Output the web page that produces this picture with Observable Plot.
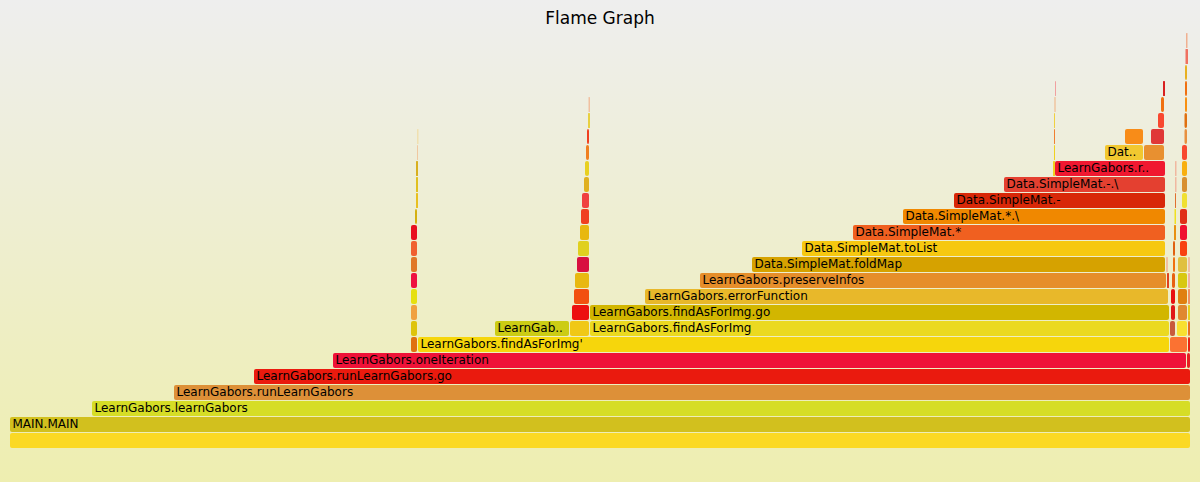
<!DOCTYPE html>
<html>
<head>
<meta charset="utf-8">
<script src="https://cdn.jsdelivr.net/npm/d3@7"></script>
<script src="https://cdn.jsdelivr.net/npm/@observablehq/plot@0.6"></script>
<style>
  html, body { margin: 0; padding: 0; }
  body {
    width: 1200px; height: 482px; overflow: hidden;
    background: linear-gradient(to bottom, #eeeeee 0%, #eeeeb0 100%);
    font-family: "DejaVu Sans", Verdana, sans-serif;
  }
  #title {
    height: 30px; box-sizing: border-box; padding-top: 3px;
    line-height: 30px; font-size: 17px; text-align: center; color: #000;
  }
  #chart svg { display: block; background: transparent; }
</style>
</head>
<body>
<div id="title">Flame Graph</div>
<div id="chart"></div>
<script>
// Each stack level: [start sample, end sample, label, colour]
const level0 = [[0, 1181, "", "#fbd924"]];
const level1 = [[0, 1181, "MAIN.MAIN", "#d2c01e"]];
const level2 = [[82, 1181, "LearnGabors.learnGabors", "#d6dd26"]];
const level3 = [[164, 1181, "LearnGabors.runLearnGabors", "#dd9038"]];
const level4 = [[244, 1181, "LearnGabors.runLearnGabors.go", "#ea1a0e"]];
const level5 = [[323, 1177, "LearnGabors.oneIteration", "#ef1238"], [1177, 1181, "", "#e62020"]];
const level6 = [[401, 408, "", "#e07010"], [408, 1160, "LearnGabors.findAsForImg'", "#f6d60c"],
                [1160, 1178, "", "#fb7232"], [1178, 1181, "", "#e82010"]];
const level7 = [[401, 408, "", "#dec40c"], [485, 560, "LearnGab..", "#cccc14"], [560, 580, "", "#f0c816"],
                [580, 1160, "LearnGabors.findAsForImg", "#ebd920"], [1160, 1166, "", "#c85a3c"],
                [1167, 1178, "", "#f8e030"], [1178, 1181, "", "#e87020"]];
const level8 = [[401, 408, "", "#f0a040"], [562, 580, "", "#ec1010"],
                [580, 1160, "LearnGabors.findAsForImg.go", "#d2b600"], [1161, 1166, "", "#e01818"],
                [1168, 1178, "", "#e08830"], [1178, 1180, "", "#e8d020"]];
const level9 = [[401, 408, "", "#e6e010"], [564, 580, "", "#f25010"],
                [635, 1159, "LearnGabors.errorFunction", "#e8b82a"], [1161, 1166, "", "#e81010"],
                [1168, 1178, "", "#e08010"], [1178, 1180, "", "#f09060"]];
const level10 = [[401, 408, "", "#ee1040"], [565, 580, "", "#e8b810"],
                 [690, 1157, "LearnGabors.preserveInfos", "#e68e2a"], [1157, 1159, "", "#e04020"],
                 [1162, 1166, "", "#e86010"], [1168, 1178, "", "#d8c810"], [1178, 1180, "", "#f0b0a0"]];
const level11 = [[401, 408, "", "#e07828"], [567, 580, "", "#d81040"],
                 [742, 1156, "Data.SimpleMat.foldMap", "#d6a200"], [1156, 1158, "", "#f0c0a0"],
                 [1163, 1166, "", "#f07010"], [1168, 1178, "", "#e0c040"], [1178, 1180, "", "#f0c0a0"]];
const level12 = [[401, 408, "", "#f06030"], [568, 580, "", "#e0d020"],
                 [792, 1156, "Data.SimpleMat.toList", "#f6c810"], [1163, 1166, "", "#e06010"],
                 [1170, 1178, "", "#f84010"]];
const level13 = [[401, 408, "", "#e81020"], [570, 580, "", "#e8b810"],
                 [843, 1156, "Data.SimpleMat.*", "#f06020"], [1164, 1166, "", "#e89010"],
                 [1170, 1178, "", "#f01030"]];
const level14 = [[405, 408, "", "#d4b010"], [571, 580, "", "#f04020"],
                 [893, 1156, "Data.SimpleMat.*.\\", "#f08800"], [1164.5, 1166, "", "#f0e020"],
                 [1170, 1178, "", "#e03018"]];
const level15 = [[406, 408, "", "#e8c020"], [572, 580, "", "#f04040"],
                 [944, 1156, "Data.SimpleMat.-", "#d82808"], [1165, 1166, "", "#e07030"],
                 [1172, 1178, "", "#f0e030"]];
const level16 = [[406, 408, "", "#e0c020"], [574, 580, "", "#e0b020"],
                 [994, 1156, "Data.SimpleMat.-.\\", "#e44030"], [1165, 1166.5, "", "#f0b8a0"],
                 [1172, 1178, "", "#d89030"]];
const level17 = [[406, 408, "", "#d8b020"], [575, 580, "", "#e8d020"], [1043, 1045, "", "#f0d020"],
                 [1045, 1156, "LearnGabors.r..", "#f01830"], [1165, 1166.5, "", "#f0b8a0"],
                 [1172, 1178, "", "#f8b010"]];
const level18 = [[407, 408, "", "#f0c8a0"], [576, 580, "", "#f08020"], [1044, 1045, "", "#f0d020"],
                 [1095, 1134, "Dat..", "#f2c830"], [1134, 1155, "", "#e89030"], [1172, 1178, "", "#f84830"]];
const level19 = [[407, 408.5, "", "#f0e0b0"], [577, 580, "", "#f04020"], [1044, 1045, "", "#f08030"],
                 [1115, 1134, "", "#f88c18"], [1141, 1155, "", "#e03838"], [1174.5, 1178, "", "#e89040"]];
const level20 = [[578, 580, "", "#e8d040"], [1044, 1045, "", "#f0d040"],
                 [1148, 1155, "", "#f84830"], [1174.5, 1178, "", "#e07010"]];
const level21 = [[578.5, 580, "", "#f0c0a0"], [1044.5, 1045.5, "", "#f0b080"],
                 [1151, 1155, "", "#f07010"], [1175, 1178, "", "#f89010"]];
const level22 = [[1045, 1046, "", "#f0a0a0"], [1153, 1155, "", "#d82020"], [1175, 1178, "", "#f07010"]];
const level23 = [[1175, 1178, "", "#e8b020"]];
const level24 = [[1175.5, 1178, "", "#f07060"]];
const level25 = [[1176, 1177.5, "", "#f0b090"]];

const totalSamples = 1181;
const maxDepth = 26;

const levels = [level0, level1, level2, level3, level4, level5, level6, level7, level8, level9,
  level10, level11, level12, level13, level14, level15, level16, level17, level18, level19,
  level20, level21, level22, level23, level24, level25];

const frames = levels.flatMap((row, depth) =>
  row.map(([start, end, name, color]) => ({depth, top: depth + 1, start, end, name, color})));
const wide = frames.filter(d => d.end - d.start >= 3);
const thin = frames.filter(d => d.end - d.start < 3);
const labelled = frames.filter(d => d.name);

const chart = Plot.plot({
  width: 1200,
  height: 452,
  marginTop: 0, marginBottom: 0, marginLeft: 0, marginRight: 0,
  x: {domain: [0, totalSamples], range: [10, 1191], axis: null},
  y: {domain: [0, maxDepth], range: [418, 2], axis: null},
  color: {type: "identity"},
  style: {background: "transparent"},
  marks: [
    Plot.rect(wide, {x1: "start", x2: "end", y1: "depth", y2: "top", fill: "color",
      insetTop: 1, insetRight: 1, rx: 2}),
    Plot.rect(thin, {x1: "start", x2: "end", y1: "depth", y2: "top", fill: "color",
      insetTop: 1, insetRight: 0, rx: 0.5}),
    Plot.text(labelled, {x: "start", y: d => d.depth + 0.5, text: "name", dx: 2,
      textAnchor: "start", lineAnchor: "middle", fill: "#000", fontSize: 12,
      fontFamily: "DejaVu Sans, Verdana, sans-serif"})
  ]
});
document.getElementById("chart").appendChild(chart);
</script>
</body>
</html>
